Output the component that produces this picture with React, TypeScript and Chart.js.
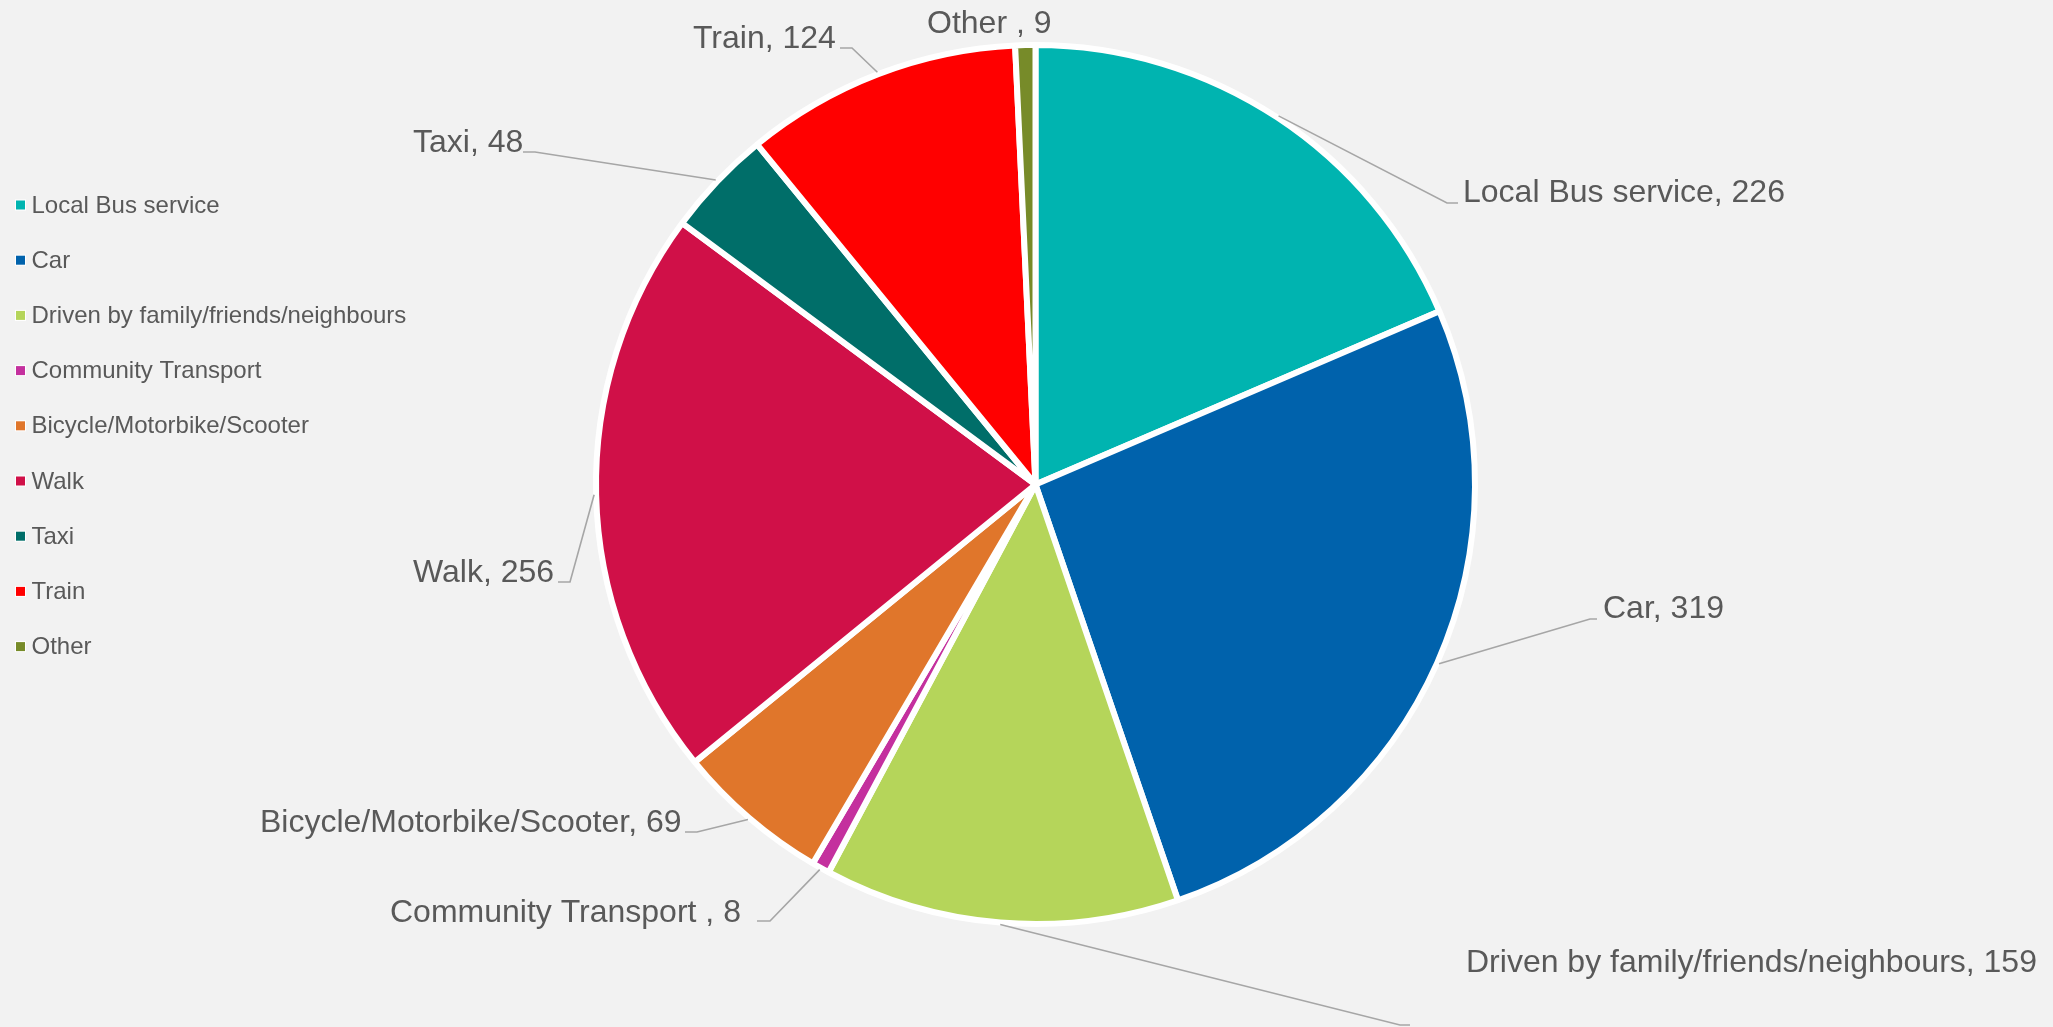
import React, { useEffect, useRef } from 'react';
import { Chart, registerables } from 'chart.js';

Chart.register(...registerables);

// ---- Data ----
const categories: string[] = [
  'Local Bus service',
  'Car',
  'Driven by family/friends/neighbours',
  'Community Transport ',
  'Bicycle/Motorbike/Scooter',
  'Walk',
  'Taxi',
  'Train',
  'Other ',
];
const values: number[] = [226, 319, 159, 8, 69, 256, 48, 124, 9];
const colors: string[] = [
  '#00B4B0',
  '#0062AC',
  '#B5D55A',
  '#C4309E',
  '#E0762B',
  '#D01048',
  '#006E69',
  '#FF0000',
  '#778B29',
];

// ---- Label layout (canvas px): text left x, baseline y, leader elbow + end ----
type LabelPos = { x: number; y: number; elbow?: [number, number]; end?: [number, number] };
const labelLayout: LabelPos[] = [
  { x: 1463, y: 202, elbow: [1447, 203], end: [1458, 203] },
  { x: 1603, y: 618, elbow: [1590, 619], end: [1597, 619] },
  { x: 1466, y: 972, elbow: [1400, 1025], end: [1410, 1025] },
  { x: 390, y: 922, elbow: [770, 921], end: [757, 921] },
  { x: 260, y: 832, elbow: [697, 832], end: [685, 832] },
  { x: 413, y: 582, elbow: [570, 582], end: [558, 582] },
  { x: 413, y: 152, elbow: [535, 152], end: [523, 152] },
  { x: 693, y: 48, elbow: [852, 48], end: [840, 48] },
  { x: 927, y: 33 },
];

const TEXT_COLOR = '#595959';
const FONT = '"Liberation Sans", Arial, sans-serif';

const piePlugin = {
  id: 'pieDecor',
  beforeDraw(chart: any) {
    const ctx = chart.ctx;
    ctx.save();
    ctx.fillStyle = '#F2F2F2';
    ctx.fillRect(0, 0, chart.width, chart.height);
    ctx.restore();
  },
  afterDatasetsDraw(chart: any) {
    const ctx = chart.ctx;
    const meta = chart.getDatasetMeta(0);
    ctx.save();
    meta.data.forEach((arc: any, i: number) => {
      const lp = labelLayout[i];
      if (!lp) return;
      const mid = (arc.startAngle + arc.endAngle) / 2;
      const r = arc.outerRadius + 2;
      const sx = arc.x + Math.cos(mid) * r;
      const sy = arc.y + Math.sin(mid) * r;
      if (lp.elbow && lp.end) {
        ctx.beginPath();
        ctx.strokeStyle = '#A6A6A6';
        ctx.lineWidth = 1.6;
        ctx.moveTo(sx, sy);
        ctx.lineTo(lp.elbow[0], lp.elbow[1]);
        ctx.lineTo(lp.end[0], lp.end[1]);
        ctx.stroke();
      }
      ctx.fillStyle = TEXT_COLOR;
      ctx.font = `32px ${FONT}`;
      ctx.textAlign = 'left';
      ctx.textBaseline = 'alphabetic';
      ctx.fillText(`${categories[i]}, ${values[i]}`, lp.x, lp.y);
    });
    ctx.restore();
  },
  afterDraw(chart: any) {
    const ctx = chart.ctx;
    ctx.save();
    ctx.font = `24px ${FONT}`;
    ctx.textBaseline = 'middle';
    ctx.textAlign = 'left';
    categories.forEach((c, i) => {
      const cy = 205 + i * 55.2;
      ctx.fillStyle = '#FFFFFF';
      ctx.fillRect(15, cy - 5.5, 11, 11);
      ctx.fillStyle = colors[i];
      ctx.fillRect(16, cy - 4.5, 9, 9);
      ctx.fillStyle = TEXT_COLOR;
      ctx.fillText(c.trim(), 31.5, cy + 1);
    });
    ctx.restore();
  },
};

export default function App() {
  const ref = useRef<HTMLCanvasElement | null>(null);
  useEffect(() => {
    document.body.style.margin = '0';
    document.body.style.background = '#F2F2F2';
    const canvas = ref.current;
    if (!canvas) return;
    const chart = new Chart(canvas, {
      type: 'pie',
      data: {
        labels: categories,
        datasets: [
          {
            data: values,
            backgroundColor: colors,
            borderColor: '#FFFFFF',
            borderWidth: 6,
            hoverBorderWidth: 6,
          },
        ],
      },
      options: {
        responsive: false,
        devicePixelRatio: 1,
        animation: false,
        events: [],
        layout: { padding: { left: 593, right: 575, top: 42, bottom: 100 } },
        plugins: {
          legend: { display: false },
          tooltip: { enabled: false },
          title: { display: false },
        },
      },
      plugins: [piePlugin],
    });
    return () => chart.destroy();
  }, []);
  return (
    <canvas ref={ref} width={2053} height={1027} style={{ display: 'block', width: 2053, height: 1027 }} />
  );
}
